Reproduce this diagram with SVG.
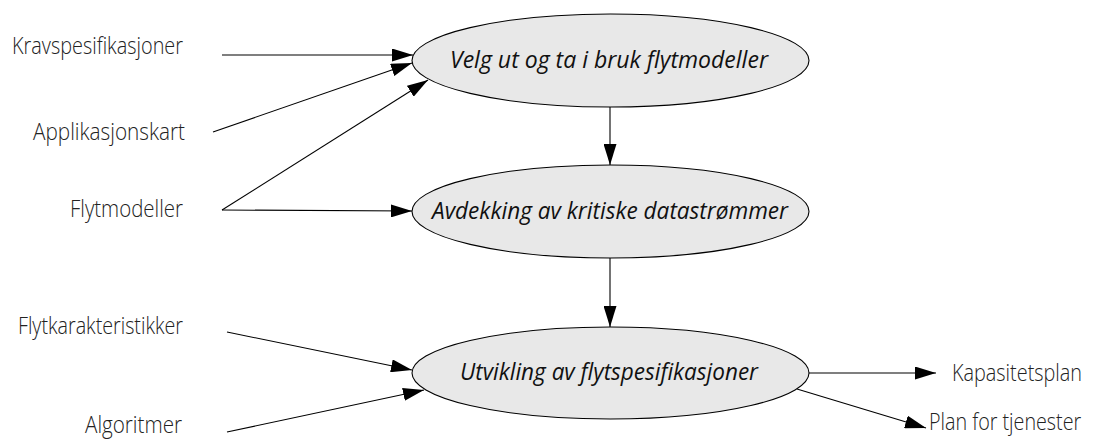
<svg xmlns="http://www.w3.org/2000/svg" width="1093" height="441" viewBox="0 0 1093 441">
<style>
.node ellipse{fill:#e8e8e8;stroke:#000;stroke-width:1.1}
.node text{font-family:"Open Sans","Noto Sans",sans-serif;font-style:italic;font-size:24px;fill:#111;text-anchor:middle}
.lbl{font-family:"Open Sans","Noto Sans",sans-serif;font-weight:300;font-size:24px;fill:#222}
.conn line{stroke:#000;stroke-width:1.1;fill:none;marker-end:url(#ah)}
</style>
<defs>
<marker id="ah" markerUnits="userSpaceOnUse" markerWidth="22" markerHeight="13" refX="21" refY="6.5" orient="auto">
<path d="M0,0 L21,6.5 L0,13 z" fill="#000"/>
</marker>
</defs>
<rect width="1093" height="441" fill="#fff"/>
<g id="conn" class="conn">
<line x1="222" y1="55" x2="413" y2="55"/>
<line x1="213" y1="132" x2="412" y2="63"/>
<line x1="222" y1="210" x2="428" y2="80"/>
<line x1="222" y1="210" x2="412" y2="211"/>
<line x1="610" y1="107" x2="610" y2="165"/>
<line x1="610" y1="258" x2="610" y2="327"/>
<line x1="227" y1="332" x2="412" y2="370"/>
<line x1="227" y1="432" x2="424" y2="390"/>
<line x1="809" y1="373" x2="936" y2="373"/>
<line x1="797" y1="389" x2="926" y2="428"/>
</g>
<g id="n1" class="node">
<ellipse cx="610.5" cy="60.5" rx="198.5" ry="46.5"/>
<text x="609" y="68" textLength="318" lengthAdjust="spacingAndGlyphs">Velg ut og ta i bruk flytmodeller</text>
</g>
<g id="n2" class="node">
<ellipse cx="610.5" cy="211.5" rx="198.5" ry="46.5"/>
<text x="610" y="219" textLength="356" lengthAdjust="spacingAndGlyphs">Avdekking av kritiske datastrømmer</text>
</g>
<g id="n3" class="node">
<ellipse cx="610.5" cy="373" rx="198.5" ry="46"/>
<text x="609" y="380" textLength="298" lengthAdjust="spacingAndGlyphs">Utvikling av flytspesifikasjoner</text>
</g>
<g id="in1"><text class="lbl" x="12" y="54" textLength="171" lengthAdjust="spacingAndGlyphs">Kravspesifikasjoner</text></g>
<g id="in2"><text class="lbl" x="33" y="140" textLength="152" lengthAdjust="spacingAndGlyphs">Applikasjonskart</text></g>
<g id="in3"><text class="lbl" x="70" y="217" textLength="113" lengthAdjust="spacingAndGlyphs">Flytmodeller</text></g>
<g id="in4"><text class="lbl" x="18" y="334" textLength="165" lengthAdjust="spacingAndGlyphs">Flytkarakteristikker</text></g>
<g id="in5"><text class="lbl" x="85" y="433" textLength="97" lengthAdjust="spacingAndGlyphs">Algoritmer</text></g>
<g id="out1" transform="translate(952,381) scale(0.85,1)"><text class="lbl" x="0" y="0" textLength="153" lengthAdjust="spacingAndGlyphs">Kapasitetsplan</text></g>
<g id="out2" transform="translate(929,430) scale(0.85,1)"><text class="lbl" x="0" y="0" textLength="179" lengthAdjust="spacingAndGlyphs">Plan for tjenester</text></g>
</svg>
